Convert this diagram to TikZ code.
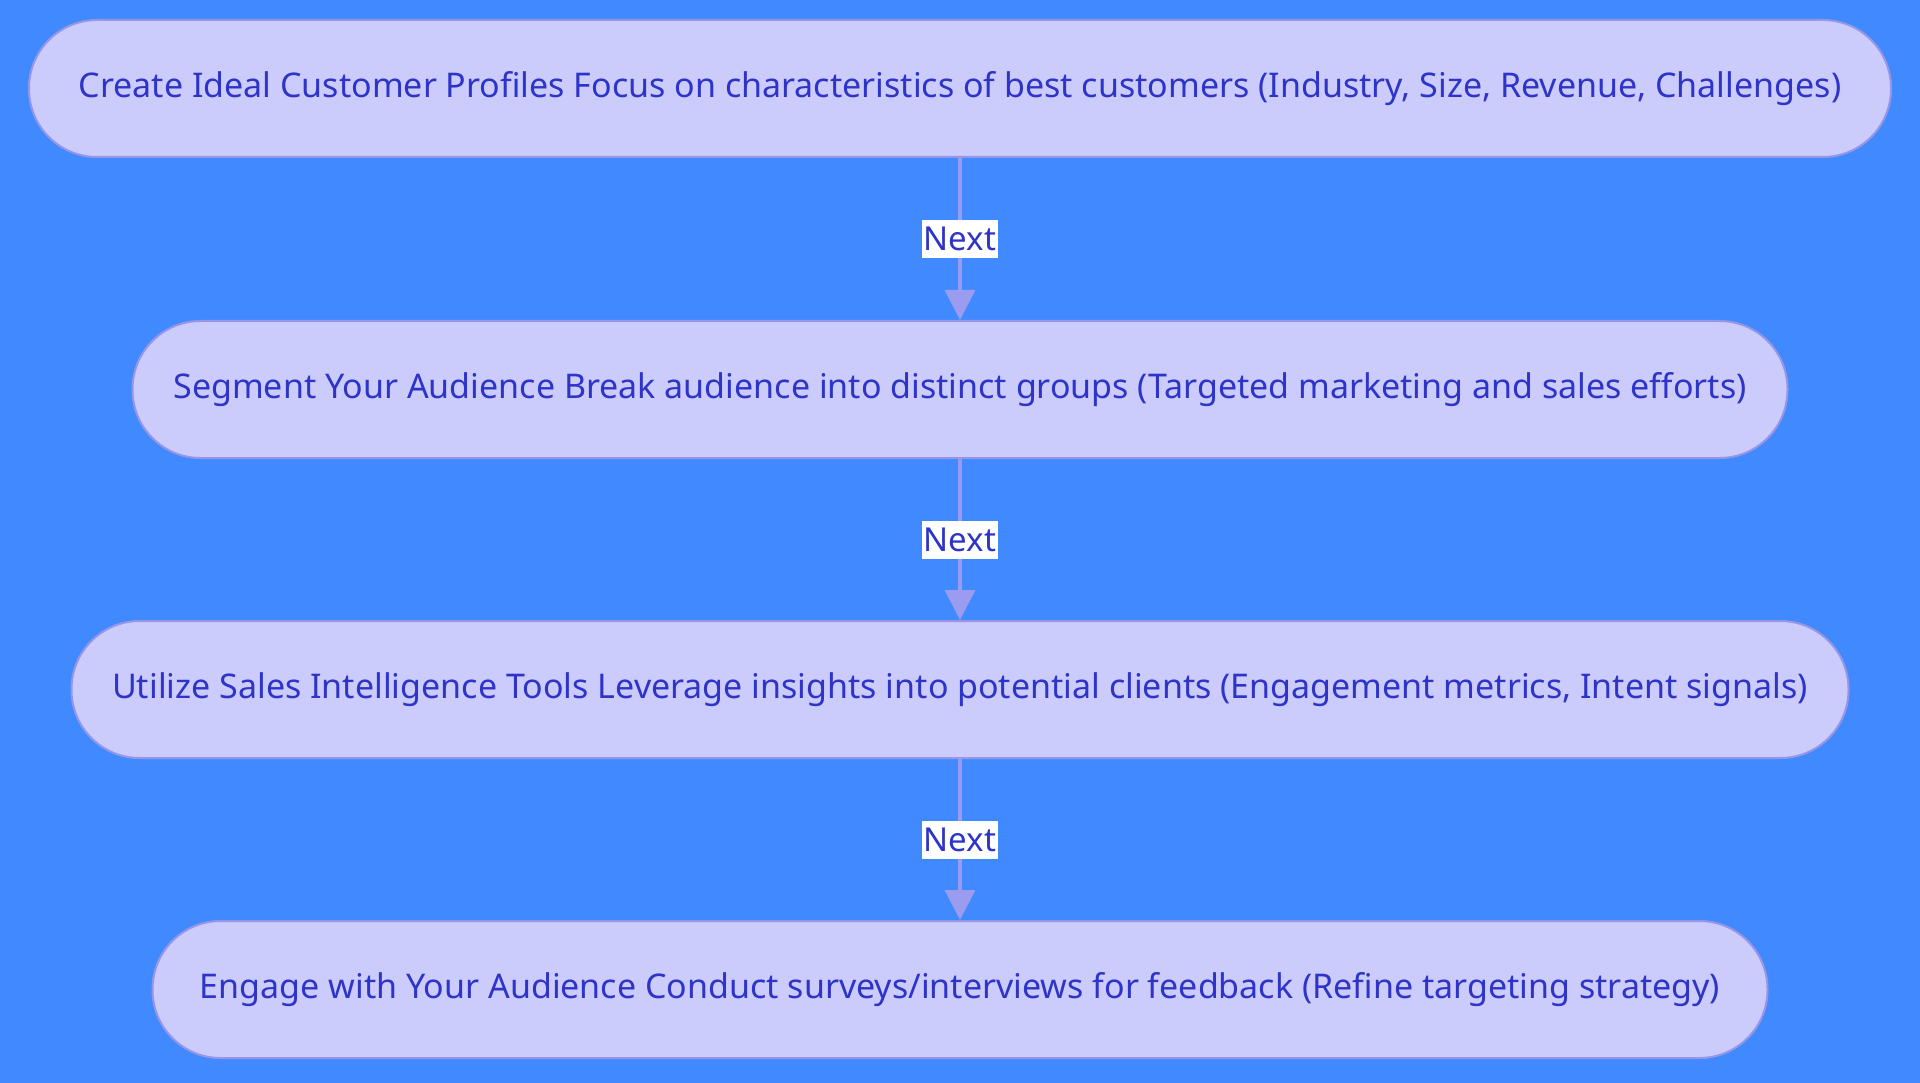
\documentclass[tikz,border=0pt]{standalone}
\usepackage{fontspec}
\setmainfont{Noto Sans}
\usetikzlibrary{arrows.meta}
\definecolor{bgblue}{RGB}{65,137,255}
\definecolor{boxfill}{RGB}{203,203,252}
\definecolor{boxline}{RGB}{150,150,230}
\definecolor{txtblue}{RGB}{46,52,200}
\definecolor{arrowc}{RGB}{155,155,240}
\tikzset{
  stepbox/.style={draw=boxline, line width=2pt, fill=boxfill, text=txtblue,
    rounded corners=68pt, minimum height=137pt, inner sep=0pt,
    font=\fontsize{34}{40}\selectfont},
  flow/.style={draw=arrowc, line width=3.5pt, -{Triangle[width=30pt,length=30pt]}},
  lbl/.style={fill=white, text=txtblue, inner xsep=1.5pt, inner ysep=0pt,
    minimum height=38pt, font=\fontsize{33}{40}\selectfont}
}
\begin{document}
\begin{tikzpicture}[x=1pt,y=-1pt]
\fill[bgblue] (0,0) rectangle (1920,1083);
\useasboundingbox (0,0) rectangle (1920,1083);
\node[stepbox, minimum width=1862pt] (a) at (960,88.5) {Create Ideal Customer Profiles Focus on characteristics of best customers (Industry, Size, Revenue, Challenges)};
\node[stepbox, minimum width=1655pt] (b) at (960,389.5) {Segment Your Audience Break audience into distinct groups (Targeted marketing and sales efforts)};
\node[stepbox, minimum width=1777pt] (c) at (960,689.5) {Utilize Sales Intelligence Tools Leverage insights into potential clients (Engagement metrics, Intent signals)};
\node[stepbox, minimum width=1615pt] (d) at (960,989.5) {Engage with Your Audience Conduct surveys/interviews for feedback (Refine targeting strategy)};
\draw[flow] (a) -- node[lbl] {Next} (b);
\draw[flow] (b) -- node[lbl] {Next} (c);
\draw[flow] (c) -- node[lbl] {Next} (d);
\end{tikzpicture}
\end{document}
